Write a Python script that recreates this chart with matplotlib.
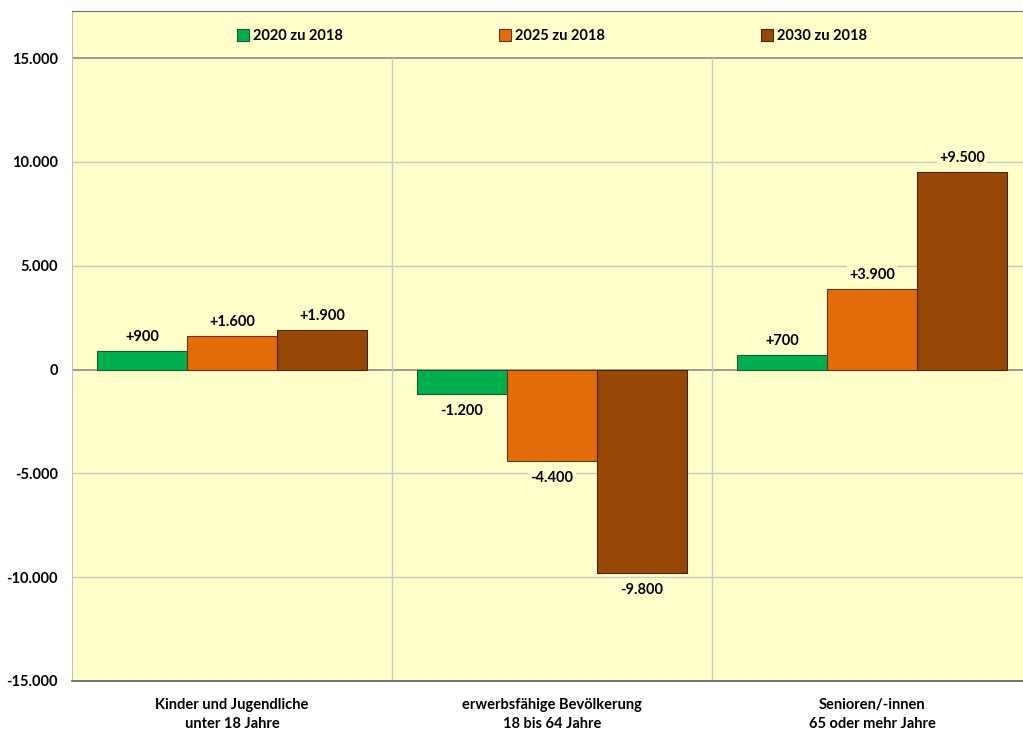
import matplotlib.pyplot as plt
import numpy as np

categories = ['Kinder und Jugendliche\nunter 18 Jahre',
              'erwerbsfähige Bevölkerung\n18 bis 64 Jahre',
              'Senioren/-innen\n65 oder mehr Jahre']
series = ['2020 zu 2018', '2025 zu 2018', '2030 zu 2018']
v2020 = [900, -1200, 700]
v2025 = [1600, -4400, 3900]
v2030 = [1900, -9800, 9500]
yticks = [-15000, -10000, -5000, 0, 5000, 10000, 15000]

colors = ['#00B050', '#E36C0A', '#974706']
edges = ['#1E5631', '#6B3305', '#4A2303']
bg = '#FFFFCC'


def de_fmt(v, sign=False):
    s = f'{abs(v):,}'.replace(',', '.')
    if v < 0:
        return '-' + s
    return ('+' + s) if sign and v > 0 else s


plt.rcParams['font.family'] = ['Lato', 'DejaVu Sans']
plt.rcParams['font.weight'] = 'bold'

fig = plt.figure(figsize=(10.23, 7.31), dpi=100)
ax = fig.add_axes([72 / 1023, 1 - 681 / 731, 960 / 1023, 670 / 731])
ax.set_facecolor(bg)

ytop = 15000 + 47 / 311.5 * 15000
ax.set_ylim(-15000, ytop)
ax.set_xlim(-0.5, 2.5)

for y in yticks:
    dark = y in (0, 15000)
    ax.axhline(y, color='#8C8C8C' if dark else '#C8C8C8', lw=1.2 if dark else 1.0, zorder=1)
for x in (0.5, 1.5):
    ax.plot([x, x], [-15000, 15000], color='#C8C8C8', lw=1.0, zorder=1)

x = np.arange(len(categories))
w = 90 / 320
for i, (vals, lab) in enumerate(zip([v2020, v2025, v2030], series)):
    pos = x + (i - 1) * w
    ax.bar(pos, vals, width=w, color=colors[i], edgecolor=edges[i], lw=0.8,
           label=lab, zorder=3)
    for px, v in zip(pos, vals):
        off = 5 if v > 0 else -7
        ax.annotate(de_fmt(v, sign=True), (px, v), xytext=(0, off),
                    textcoords='offset points', ha='center',
                    va='bottom' if v > 0 else 'top', fontsize=10.5,
                    fontweight='bold', zorder=4,
                    bbox=dict(boxstyle='square,pad=0.15', fc=bg, ec='none'))

ax.set_yticks(yticks)
ax.set_yticklabels([de_fmt(t) for t in yticks], fontsize=10.5, fontweight='bold')
ax.set_xticks(x)
ax.set_xticklabels(categories, fontsize=10.5, fontweight='bold', linespacing=1.5)
ax.tick_params(axis='both', length=0, pad=10)
ax.tick_params(axis='x', pad=12)

ax.spines['right'].set_visible(False)
ax.spines['top'].set_color('#707070')
ax.spines['left'].set_color('#BEBEBE')
ax.spines['bottom'].set_color('#606060')
ax.spines['bottom'].set_linewidth(1.2)

ax.legend(loc='center', bbox_to_anchor=(0.5, 1 - 25 / 670), ncol=3,
          frameon=False, fontsize=10.5, handlelength=0.8, handleheight=0.8,
          handletextpad=0.3, columnspacing=10.7)

fig.savefig('out.png', dpi=100)
